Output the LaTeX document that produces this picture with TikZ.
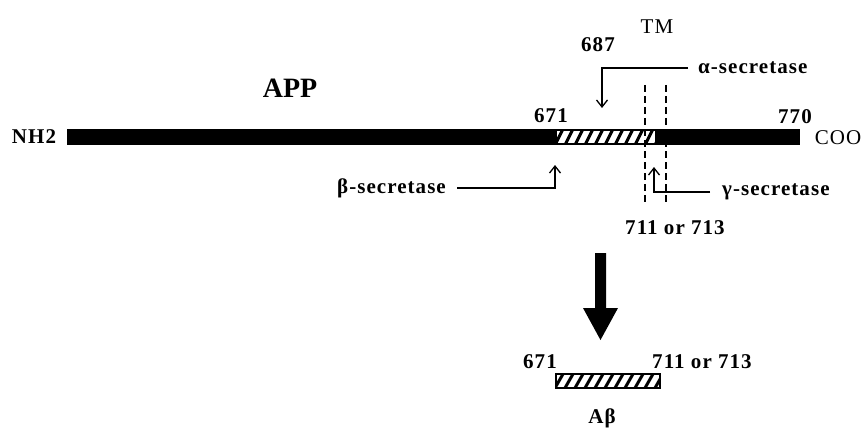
\documentclass[tikz,border=0pt]{standalone}
\usepackage{fontspec}
\setmainfont{Liberation Serif}
\usetikzlibrary{arrows.meta}
\begin{document}
\begin{tikzpicture}[x=1pt,y=-1pt,
  lbl/.style={inner sep=0pt, font=\fontsize{21}{24}\selectfont\bfseries\addfontfeature{LetterSpace=5}},
  rlbl/.style={inner sep=0pt, font=\fontsize{21}{24}\selectfont\addfontfeature{LetterSpace=5}},
  arr/.style={line width=1.3pt, -{Straight Barb[length=7pt,width=11pt,line width=1.3pt]}},
  cutline/.style={line width=2pt, dash pattern=on 7pt off 4pt},
  hatchline/.style={line width=3pt}]
\useasboundingbox (0,0) rectangle (863,428);

% main APP bar
\fill[black] (67,129) rectangle (800,145);
% hatched A-beta region inside bar
\fill[white] (557,131) rectangle (655,143);
\begin{scope}
  \clip (557,131) rectangle (655,143);
  \foreach \i in {545,555,...,665} \draw[hatchline] (\i,145) -- (\i+8,129);
\end{scope}

% TM dashed lines
\draw[cutline] (645,85) -- (645,202);
\draw[cutline] (666,85) -- (666,202);

% labels
\node[inner sep=0pt, font=\fontsize{28}{30}\selectfont\bfseries] (app) at (290,88) {APP};
\node[lbl] (nh2) at (34,137) {NH2};
\node[rlbl] (coo) at (838,138) {COO};
\node[rlbl] (tm) at (657,27) {TM};
\node[lbl] (n687) at (598,45) {687};
\node[lbl] (n671) at (551,116) {671};
\node[lbl] (n770) at (795,117) {770};
\node[lbl, anchor=west] (alpha) at (698,68) {α-secretase};
\node[lbl, anchor=east] (beta) at (446,188) {β-secretase};
\node[lbl, anchor=west] (gamma) at (722,192) {γ-secretase};
\node[lbl] (n711) at (675,228) {711 or 713};

% cleavage arrows
\coordinate (acut) at (602,108);
\coordinate (bcut) at (555,165);
\coordinate (gcut) at (654,167);
\draw[arr] ([xshift=-10pt]alpha.west) -| (acut);
\draw[arr] ([xshift=11pt]beta.east) -| (bcut);
\draw[arr] ([xshift=-12pt]gamma.west) -| (gcut);

% big block arrow
\fill[black] (595,253) -- (606,253) -- (606,308) -- (618,308) -- (600.5,340)
  -- (583,308) -- (595,308) -- cycle;

% A-beta fragment
\node[lbl] (b671) at (540,362) {671};
\node[lbl] (b711) at (702,362) {711 or 713};
\fill[white] (556,374) rectangle (660,388);
\begin{scope}
  \clip (556,374) rectangle (660,388);
  \foreach \i in {545,555,...,670} \draw[hatchline] (\i,388) -- (\i+8,374);
\end{scope}
\draw[line width=1.5pt] (556,374) rectangle (660,388);
\node[lbl] (abeta) at (602,418) {Aβ};
\end{tikzpicture}
\end{document}
